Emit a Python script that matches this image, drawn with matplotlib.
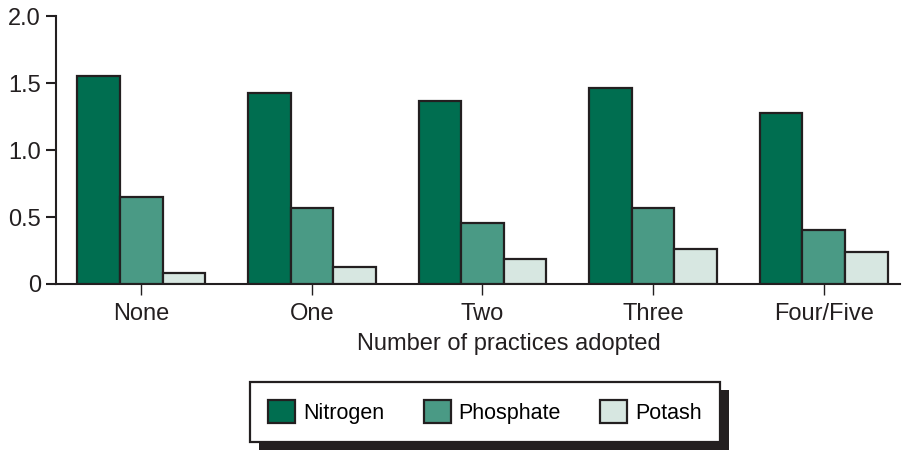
import numpy as np
import matplotlib.pyplot as plt
from matplotlib.patches import Rectangle

plt.rcParams['font.family'] = ['Liberation Sans', 'DejaVu Sans']

categories = ['None', 'One', 'Two', 'Three', 'Four/Five']
nitrogen = [1.55, 1.43, 1.37, 1.46, 1.28]
phosphate = [0.65, 0.57, 0.455, 0.57, 0.40]
potash = [0.08, 0.13, 0.19, 0.26, 0.24]

series = [('Nitrogen', nitrogen, '#006e50'),
          ('Phosphate', phosphate, '#4a9a85'),
          ('Potash', potash, '#d7e7e1')]

dark = '#231f20'

fig = plt.figure(figsize=(9.04, 4.5), dpi=100)
ax = fig.add_axes([0.062, 0.369, 0.934, 0.595])

x = np.arange(len(categories))
w = 0.25
handles = []
for i, (name, vals, col) in enumerate(series):
    b = ax.bar(x + (i - 1) * w, vals, w, color=col, edgecolor=dark,
               linewidth=1.6, label=name, zorder=3)
    handles.append(b)

ax.set_xlim(-0.5, 4.45)
ax.set_ylim(0, 2.0)
ax.set_yticks([0, 0.5, 1.0, 1.5, 2.0])
ax.set_yticklabels(['0', '0.5', '1.0', '1.5', '2.0'])
ax.set_xticks(x)
ax.set_xticklabels(categories)

for s in ['top', 'right']:
    ax.spines[s].set_visible(False)
for s in ['left', 'bottom']:
    ax.spines[s].set_linewidth(1.5)
    ax.spines[s].set_color(dark)

ax.tick_params(axis='y', length=7, width=1.5, color=dark, labelsize=17,
               labelcolor=dark, pad=4)
ax.tick_params(axis='x', length=8, width=1.0, color=dark, labelsize=17,
               labelcolor=dark, pad=6)
ax.set_xlabel('Number of practices adopted', fontsize=17, color=dark,
              labelpad=9)
ax.xaxis.set_label_coords(0.536, -0.185)

leg = fig.legend(handles=handles, labels=[s[0] for s in series],
                 loc='center', bbox_to_anchor=(485 / 904, 1 - 412 / 450),
                 ncol=3, fontsize=15.5, frameon=True, fancybox=False,
                 framealpha=1, handlelength=1.25, handleheight=1.25,
                 handletextpad=0.35, columnspacing=1.85, borderpad=0.85,
                 borderaxespad=0)
frame = leg.get_frame()
frame.set_edgecolor(dark)
frame.set_linewidth(1.6)
frame.set_facecolor('white')
leg.set_zorder(5)

# drop shadow behind the legend box
fig.canvas.draw()
bb = leg.get_window_extent()
W, H = fig.bbox.width, fig.bbox.height
shadow = Rectangle(((bb.x0 + 9) / W, (bb.y0 - 8) / H), bb.width / W,
                   bb.height / H, transform=fig.transFigure,
                   facecolor=dark, edgecolor='none', zorder=1)
fig.patches.append(shadow)

fig.savefig('out.png', dpi=100)
